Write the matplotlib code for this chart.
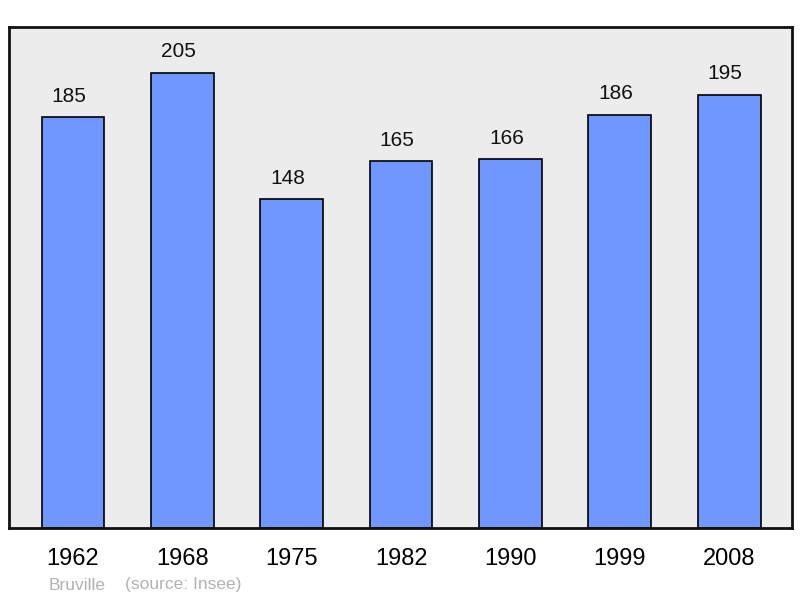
import matplotlib
matplotlib.use("Agg")
import matplotlib.pyplot as plt

plt.rcParams['font.family'] = ['Liberation Sans', 'DejaVu Sans']

years = ["1962", "1968", "1975", "1982", "1990", "1999", "2008"]
population = [185, 205, 148, 165, 166, 186, 195]
commune = "Bruville"
source = "(source: Insee)"

fig = plt.figure(figsize=(8, 5.98), dpi=100)
ax = fig.add_axes([0.01125, 0.117, 0.97875, 0.8378])
ax.set_facecolor("#ececec")

x = range(len(years))
bars = ax.bar(x, population, 0.575, color="#7097ff", edgecolor="black", linewidth=1.2, zorder=2)

for xi, v in zip(x, population):
    ax.annotate(str(v), (xi, v), xytext=(-4, 21), textcoords="offset pixels",
                ha="center", va="center", fontsize=15, color="#111111")

ax.set_xlim(-0.585, 6.575)
ax.set_ylim(0, max(population) * 1.1)
ax.set_xticks(list(x))
ax.set_xticklabels(years, fontsize=17)
ax.tick_params(axis="x", length=0, pad=14.5)
ax.set_yticks([])
for s in ax.spines.values():
    s.set_linewidth(2)
    s.set_color("#111111")

fig.text(49 / 800, 1 - 585 / 598, commune, fontsize=12.5, color="#b3b3b3", va="center", ha="left")
fig.text(125 / 800, 1 - 585 / 598, source, fontsize=12.5, color="#b3b3b3", va="center", ha="left")

fig.savefig("out.png", dpi=100)
